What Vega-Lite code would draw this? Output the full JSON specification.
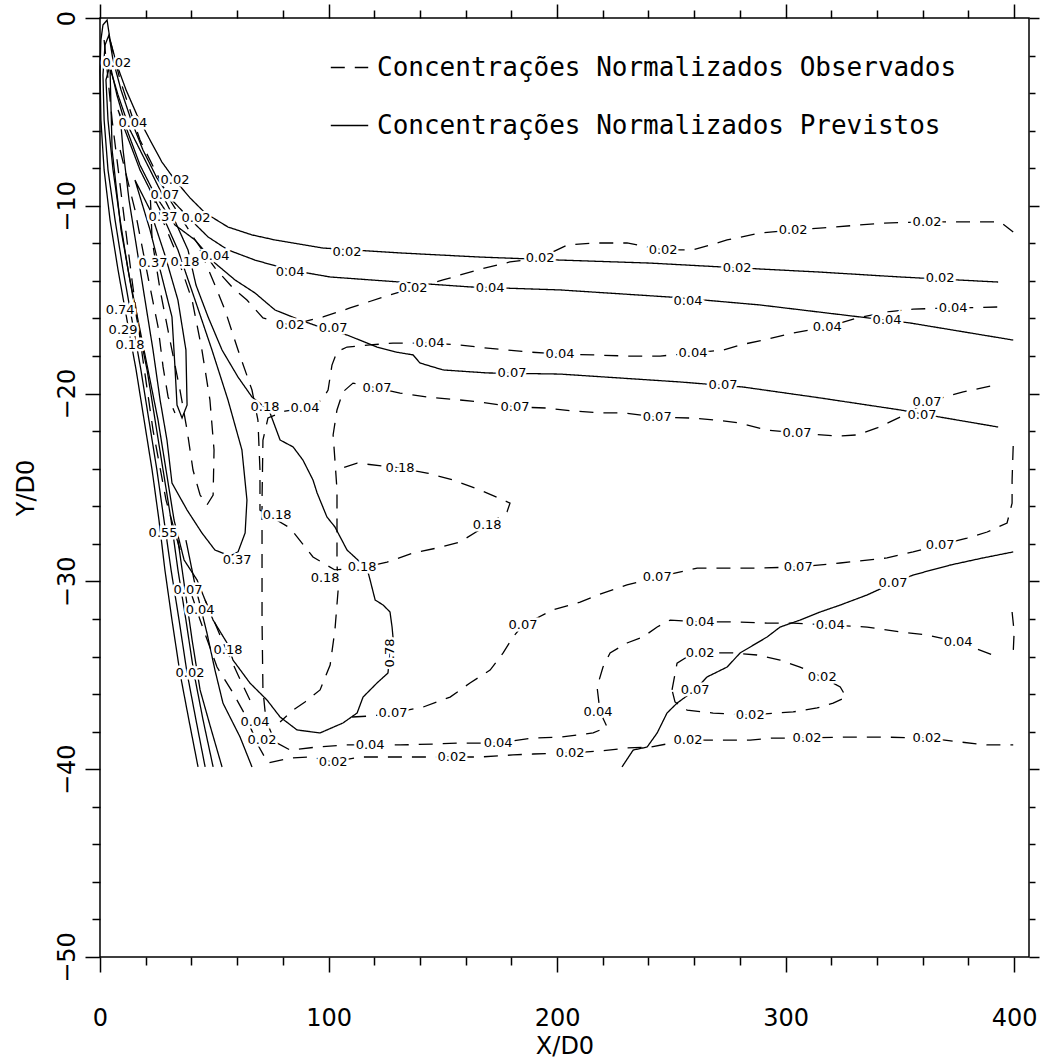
{
"$schema":"https://vega.github.io/schema/vega-lite/v6.json",
"width":929,"height":939,
"autosize":{"type":"none"},
"padding":{"left":100,"top":18,"right":11,"bottom":103},
"background":"white",
"config":{"view":{"stroke":"black","strokeWidth":1.5},
"axis":{"domain":false,"grid":false,"tickColor":"black","tickWidth":1.5,"labelColor":"black","labelFont":"DejaVu Sans","labelFontSize":24,"titleFont":"DejaVu Sans","titleFontSize":24,"titleFontWeight":"normal","titleColor":"black"}},
"datasets":{
"lines":[
{"c":"S1","k":"P","n":0,"x":42.9,"y":-39.88},{"c":"S1","k":"P","n":1,"x":38.9,"y":-37.38},{"c":"S1","k":"P","n":2,"x":35.0,"y":-34.88},{"c":"S1","k":"P","n":3,"x":31.5,"y":-32.06},{"c":"S1","k":"P","n":4,"x":28.4,"y":-29.39},{"c":"S1","k":"P","n":5,"x":25.8,"y":-26.73},{"c":"S1","k":"P","n":6,"x":22.8,"y":-24.07},{"c":"S1","k":"P","n":7,"x":19.3,"y":-21.41},{"c":"S1","k":"P","n":8,"x":15.8,"y":-18.74},{"c":"S1","k":"P","n":9,"x":11.8,"y":-16.08},{"c":"S1","k":"P","n":10,"x":7.9,"y":-13.42},{"c":"S1","k":"P","n":11,"x":4.4,"y":-10.76},{"c":"S1","k":"P","n":12,"x":1.8,"y":-8.09},{"c":"S1","k":"P","n":13,"x":0.4,"y":-5.43},{"c":"S1","k":"P","n":14,"x":0.0,"y":-2.77},{"c":"S1","k":"P","n":15,"x":0.4,"y":-1.17},{"c":"S1","k":"P","n":16,"x":1.3,"y":-0.37},{"c":"S1","k":"P","n":17,"x":3.1,"y":-0.11},{"c":"S1","k":"P","n":18,"x":4.4,"y":-1.17},{"c":"S1","k":"P","n":19,"x":7.4,"y":-2.50},{"c":"S1","k":"P","n":20,"x":11.4,"y":-3.83},{"c":"S1","k":"P","n":21,"x":16.2,"y":-5.17},{"c":"S1","k":"P","n":22,"x":21.9,"y":-6.50},{"c":"S1","k":"P","n":23,"x":27.1,"y":-7.67},{"c":"S1","k":"P","n":24,"x":32.8,"y":-8.63},{"c":"S1","k":"P","n":25,"x":39.4,"y":-9.58},{"c":"S1","k":"P","n":26,"x":46.0,"y":-10.38},{"c":"S1","k":"P","n":27,"x":56.0,"y":-11.13},{"c":"S1","k":"P","n":28,"x":66.5,"y":-11.55},{"c":"S1","k":"P","n":29,"x":76.6,"y":-11.82},{"c":"S1","k":"P","n":30,"x":97.6,"y":-12.25},{"c":"S1","k":"P","n":31,"x":131.3,"y":-12.51},{"c":"S1","k":"P","n":32,"x":166.3,"y":-12.73},{"c":"S1","k":"P","n":33,"x":201.3,"y":-12.89},{"c":"S1","k":"P","n":34,"x":240.7,"y":-13.05},{"c":"S1","k":"P","n":35,"x":280.1,"y":-13.31},{"c":"S1","k":"P","n":36,"x":315.1,"y":-13.53},{"c":"S1","k":"P","n":37,"x":350.1,"y":-13.79},{"c":"S1","k":"P","n":38,"x":393.0,"y":-14.06},
{"c":"S2","k":"P","n":0,"x":46.0,"y":-39.88},{"c":"S2","k":"P","n":1,"x":42.0,"y":-37.38},{"c":"S2","k":"P","n":2,"x":38.1,"y":-34.88},{"c":"S2","k":"P","n":3,"x":34.6,"y":-32.06},{"c":"S2","k":"P","n":4,"x":31.1,"y":-29.39},{"c":"S2","k":"P","n":5,"x":28.0,"y":-26.73},{"c":"S2","k":"P","n":6,"x":24.9,"y":-24.07},{"c":"S2","k":"P","n":7,"x":21.4,"y":-21.41},{"c":"S2","k":"P","n":8,"x":17.9,"y":-18.74},{"c":"S2","k":"P","n":9,"x":14.0,"y":-16.08},{"c":"S2","k":"P","n":10,"x":10.1,"y":-13.42},{"c":"S2","k":"P","n":11,"x":6.6,"y":-10.76},{"c":"S2","k":"P","n":12,"x":3.5,"y":-8.09},{"c":"S2","k":"P","n":13,"x":1.8,"y":-5.43},{"c":"S2","k":"P","n":14,"x":1.3,"y":-3.04},{"c":"S2","k":"P","n":15,"x":2.2,"y":-1.44},{"c":"S2","k":"P","n":16,"x":3.9,"y":-0.91},{"c":"S2","k":"P","n":17,"x":5.7,"y":-2.24},{"c":"S2","k":"P","n":18,"x":9.2,"y":-3.83},{"c":"S2","k":"P","n":19,"x":13.6,"y":-5.43},{"c":"S2","k":"P","n":20,"x":18.8,"y":-7.03},{"c":"S2","k":"P","n":21,"x":24.9,"y":-8.52},{"c":"S2","k":"P","n":22,"x":31.5,"y":-9.69},{"c":"S2","k":"P","n":23,"x":38.5,"y":-10.60},{"c":"S2","k":"P","n":24,"x":47.3,"y":-11.66},{"c":"S2","k":"P","n":25,"x":56.0,"y":-12.35},{"c":"S2","k":"P","n":26,"x":67.8,"y":-12.89},{"c":"S2","k":"P","n":27,"x":83.2,"y":-13.42},{"c":"S2","k":"P","n":28,"x":100.7,"y":-13.79},{"c":"S2","k":"P","n":29,"x":131.3,"y":-14.06},{"c":"S2","k":"P","n":30,"x":161.9,"y":-14.32},{"c":"S2","k":"P","n":31,"x":201.3,"y":-14.48},{"c":"S2","k":"P","n":32,"x":249.5,"y":-14.86},{"c":"S2","k":"P","n":33,"x":288.8,"y":-15.28},{"c":"S2","k":"P","n":34,"x":332.6,"y":-15.92},{"c":"S2","k":"P","n":35,"x":354.5,"y":-16.24},{"c":"S2","k":"P","n":36,"x":399.6,"y":-17.15},
{"c":"S3","k":"P","n":0,"x":49.5,"y":-39.88},{"c":"S3","k":"P","n":1,"x":45.1,"y":-37.38},{"c":"S3","k":"P","n":2,"x":41.1,"y":-34.88},{"c":"S3","k":"P","n":3,"x":37.6,"y":-32.06},{"c":"S3","k":"P","n":4,"x":34.1,"y":-29.39},{"c":"S3","k":"P","n":5,"x":31.1,"y":-26.73},{"c":"S3","k":"P","n":6,"x":27.6,"y":-24.07},{"c":"S3","k":"P","n":7,"x":24.1,"y":-21.41},{"c":"S3","k":"P","n":8,"x":20.6,"y":-18.74},{"c":"S3","k":"P","n":9,"x":16.2,"y":-16.08},{"c":"S3","k":"P","n":10,"x":12.3,"y":-13.42},{"c":"S3","k":"P","n":11,"x":8.8,"y":-10.76},{"c":"S3","k":"P","n":12,"x":5.7,"y":-8.09},{"c":"S3","k":"P","n":13,"x":3.5,"y":-5.43},{"c":"S3","k":"P","n":14,"x":2.6,"y":-3.30},{"c":"S3","k":"P","n":15,"x":4.4,"y":-2.50},{"c":"S3","k":"P","n":16,"x":7.4,"y":-4.10},{"c":"S3","k":"P","n":17,"x":11.8,"y":-5.96},{"c":"S3","k":"P","n":18,"x":17.5,"y":-7.83},{"c":"S3","k":"P","n":19,"x":24.1,"y":-9.42},{"c":"S3","k":"P","n":20,"x":32.8,"y":-11.02},{"c":"S3","k":"P","n":21,"x":41.6,"y":-11.82},{"c":"S3","k":"P","n":22,"x":50.3,"y":-13.05},{"c":"S3","k":"P","n":23,"x":59.1,"y":-13.95},{"c":"S3","k":"P","n":24,"x":67.8,"y":-14.64},{"c":"S3","k":"P","n":25,"x":76.6,"y":-15.55},{"c":"S3","k":"P","n":26,"x":87.5,"y":-16.08},{"c":"S3","k":"P","n":27,"x":95.0,"y":-16.40},{"c":"S3","k":"P","n":28,"x":108.1,"y":-16.88},{"c":"S3","k":"P","n":29,"x":121.2,"y":-17.52},{"c":"S3","k":"P","n":30,"x":129.1,"y":-17.78},{"c":"S3","k":"P","n":31,"x":137.0,"y":-17.94},{"c":"S3","k":"P","n":32,"x":140.0,"y":-18.37},{"c":"S3","k":"P","n":33,"x":150.1,"y":-18.74},{"c":"S3","k":"P","n":34,"x":169.4,"y":-18.90},{"c":"S3","k":"P","n":35,"x":201.3,"y":-18.96},{"c":"S3","k":"P","n":36,"x":253.8,"y":-19.38},{"c":"S3","k":"P","n":37,"x":281.4,"y":-19.65},{"c":"S3","k":"P","n":38,"x":315.1,"y":-20.23},{"c":"S3","k":"P","n":39,"x":350.1,"y":-20.87},{"c":"S3","k":"P","n":40,"x":367.6,"y":-21.25},{"c":"S3","k":"P","n":41,"x":393.0,"y":-21.78},
{"c":"S3b","k":"P","n":0,"x":228.4,"y":-39.88},{"c":"S3b","k":"P","n":1,"x":233.3,"y":-38.98},{"c":"S3b","k":"P","n":2,"x":239.4,"y":-38.82},{"c":"S3b","k":"P","n":3,"x":243.8,"y":-38.07},{"c":"S3b","k":"P","n":4,"x":248.1,"y":-37.01},{"c":"S3b","k":"P","n":5,"x":252.5,"y":-36.48},{"c":"S3b","k":"P","n":6,"x":260.4,"y":-35.78},{"c":"S3b","k":"P","n":7,"x":265.6,"y":-35.09},{"c":"S3b","k":"P","n":8,"x":274.4,"y":-34.56},{"c":"S3b","k":"P","n":9,"x":280.1,"y":-33.81},{"c":"S3b","k":"P","n":10,"x":291.9,"y":-32.96},{"c":"S3b","k":"P","n":11,"x":297.6,"y":-32.43},{"c":"S3b","k":"P","n":12,"x":306.3,"y":-32.06},{"c":"S3b","k":"P","n":13,"x":315.1,"y":-31.63},{"c":"S3b","k":"P","n":14,"x":323.9,"y":-31.26},{"c":"S3b","k":"P","n":15,"x":335.7,"y":-30.72},{"c":"S3b","k":"P","n":16,"x":347.0,"y":-30.09},{"c":"S3b","k":"P","n":17,"x":355.8,"y":-29.66},{"c":"S3b","k":"P","n":18,"x":372.0,"y":-29.13},{"c":"S3b","k":"P","n":19,"x":386.4,"y":-28.75},{"c":"S3b","k":"P","n":20,"x":399.6,"y":-28.43},
{"c":"S4","k":"P","n":0,"x":4.4,"y":-2.77},{"c":"S4","k":"P","n":1,"x":5.3,"y":-7.03},{"c":"S4","k":"P","n":2,"x":9.2,"y":-11.29},{"c":"S4","k":"P","n":3,"x":13.1,"y":-13.95},{"c":"S4","k":"P","n":4,"x":17.5,"y":-16.61},{"c":"S4","k":"P","n":5,"x":21.9,"y":-19.28},{"c":"S4","k":"P","n":6,"x":25.4,"y":-21.41},{"c":"S4","k":"P","n":7,"x":28.9,"y":-24.07},{"c":"S4","k":"P","n":8,"x":32.4,"y":-26.73},{"c":"S4","k":"P","n":9,"x":36.8,"y":-28.86},{"c":"S4","k":"P","n":10,"x":42.5,"y":-29.93},{"c":"S4","k":"P","n":11,"x":49.5,"y":-32.06},{"c":"S4","k":"P","n":12,"x":55.6,"y":-33.28},{"c":"S4","k":"P","n":13,"x":58.2,"y":-34.19},{"c":"S4","k":"P","n":14,"x":65.6,"y":-35.41},{"c":"S4","k":"P","n":15,"x":73.1,"y":-36.32},{"c":"S4","k":"P","n":16,"x":78.8,"y":-37.22},{"c":"S4","k":"P","n":17,"x":86.2,"y":-37.91},{"c":"S4","k":"P","n":18,"x":96.3,"y":-38.07},{"c":"S4","k":"P","n":19,"x":106.3,"y":-37.54},{"c":"S4","k":"P","n":20,"x":112.5,"y":-37.01},{"c":"S4","k":"P","n":21,"x":115.1,"y":-36.16},{"c":"S4","k":"P","n":22,"x":121.2,"y":-35.41},{"c":"S4","k":"P","n":23,"x":126.0,"y":-34.88},{"c":"S4","k":"P","n":24,"x":126.9,"y":-33.81},{"c":"S4","k":"P","n":25,"x":128.2,"y":-32.96},{"c":"S4","k":"P","n":26,"x":127.8,"y":-32.43},{"c":"S4","k":"P","n":27,"x":126.9,"y":-31.63},{"c":"S4","k":"P","n":28,"x":123.9,"y":-31.26},{"c":"S4","k":"P","n":29,"x":120.4,"y":-30.99},{"c":"S4","k":"P","n":30,"x":118.2,"y":-29.93},{"c":"S4","k":"P","n":31,"x":116.8,"y":-29.29},{"c":"S4","k":"P","n":32,"x":113.8,"y":-28.97},{"c":"S4","k":"P","n":33,"x":108.1,"y":-28.33},{"c":"S4","k":"P","n":34,"x":102.8,"y":-27.10},{"c":"S4","k":"P","n":35,"x":99.3,"y":-26.57},{"c":"S4","k":"P","n":36,"x":95.0,"y":-25.29},{"c":"S4","k":"P","n":37,"x":93.2,"y":-24.60},{"c":"S4","k":"P","n":38,"x":88.8,"y":-23.54},{"c":"S4","k":"P","n":39,"x":84.5,"y":-22.84},{"c":"S4","k":"P","n":40,"x":78.8,"y":-22.47},{"c":"S4","k":"P","n":41,"x":74.4,"y":-21.03},{"c":"S4","k":"P","n":42,"x":70.9,"y":-20.61},{"c":"S4","k":"P","n":43,"x":66.5,"y":-20.18},{"c":"S4","k":"P","n":44,"x":60.4,"y":-19.12},{"c":"S4","k":"P","n":45,"x":53.4,"y":-17.68},{"c":"S4","k":"P","n":46,"x":47.3,"y":-15.92},{"c":"S4","k":"P","n":47,"x":42.0,"y":-14.22},{"c":"S4","k":"P","n":48,"x":38.5,"y":-12.35},{"c":"S4","k":"P","n":49,"x":30.6,"y":-10.22},{"c":"S4","k":"P","n":50,"x":21.9,"y":-8.09},{"c":"S4","k":"P","n":51,"x":13.1,"y":-5.96},{"c":"S4","k":"P","n":52,"x":7.9,"y":-4.10},{"c":"S4","k":"P","n":53,"x":5.3,"y":-3.04},{"c":"S4","k":"P","n":54,"x":4.4,"y":-2.77},
{"c":"S5","k":"P","n":0,"x":7.9,"y":-4.90},{"c":"S5","k":"P","n":1,"x":10.9,"y":-5.96},{"c":"S5","k":"P","n":2,"x":17.5,"y":-8.09},{"c":"S5","k":"P","n":3,"x":26.3,"y":-10.22},{"c":"S5","k":"P","n":4,"x":34.1,"y":-12.35},{"c":"S5","k":"P","n":5,"x":41.6,"y":-15.02},{"c":"S5","k":"P","n":6,"x":49.0,"y":-17.68},{"c":"S5","k":"P","n":7,"x":56.0,"y":-20.34},{"c":"S5","k":"P","n":8,"x":62.1,"y":-23.00},{"c":"S5","k":"P","n":9,"x":64.3,"y":-25.67},{"c":"S5","k":"P","n":10,"x":63.5,"y":-27.42},{"c":"S5","k":"P","n":11,"x":60.4,"y":-28.43},{"c":"S5","k":"P","n":12,"x":56.9,"y":-28.65},{"c":"S5","k":"P","n":13,"x":50.3,"y":-28.33},{"c":"S5","k":"P","n":14,"x":44.6,"y":-27.42},{"c":"S5","k":"P","n":15,"x":38.1,"y":-26.20},{"c":"S5","k":"P","n":16,"x":31.5,"y":-24.76},{"c":"S5","k":"P","n":17,"x":29.3,"y":-22.47},{"c":"S5","k":"P","n":18,"x":26.3,"y":-20.34},{"c":"S5","k":"P","n":19,"x":23.2,"y":-17.68},{"c":"S5","k":"P","n":20,"x":19.7,"y":-15.02},{"c":"S5","k":"P","n":21,"x":16.2,"y":-12.35},{"c":"S5","k":"P","n":22,"x":12.7,"y":-9.69},{"c":"S5","k":"P","n":23,"x":10.1,"y":-7.03},{"c":"S5","k":"P","n":24,"x":8.8,"y":-5.17},{"c":"S5","k":"P","n":25,"x":7.9,"y":-4.90},
{"c":"S6","k":"P","n":0,"x":15.3,"y":-8.63},{"c":"S6","k":"P","n":1,"x":21.9,"y":-11.29},{"c":"S6","k":"P","n":2,"x":27.1,"y":-13.79},{"c":"S6","k":"P","n":3,"x":31.5,"y":-15.92},{"c":"S6","k":"P","n":4,"x":32.8,"y":-18.58},{"c":"S6","k":"P","n":5,"x":33.7,"y":-20.61},{"c":"S6","k":"P","n":6,"x":35.9,"y":-21.30},{"c":"S6","k":"P","n":7,"x":38.1,"y":-20.61},{"c":"S6","k":"P","n":8,"x":37.6,"y":-17.68},{"c":"S6","k":"P","n":9,"x":34.1,"y":-15.02},{"c":"S6","k":"P","n":10,"x":28.4,"y":-12.62},{"c":"S6","k":"P","n":11,"x":21.9,"y":-10.22},{"c":"S6","k":"P","n":12,"x":15.3,"y":-8.63},
{"c":"Pa","k":"P","n":0,"x":34.1,"y":-27.80},{"c":"Pa","k":"P","n":1,"x":37.2,"y":-30.46},{"c":"Pa","k":"P","n":2,"x":40.3,"y":-33.12},{"c":"Pa","k":"P","n":3,"x":43.8,"y":-35.78},{"c":"Pa","k":"P","n":4,"x":48.1,"y":-37.65},{"c":"Pa","k":"P","n":5,"x":53.4,"y":-39.88},
{"c":"Pb","k":"P","n":0,"x":37.6,"y":-27.80},{"c":"Pb","k":"P","n":1,"x":41.6,"y":-30.19},{"c":"Pb","k":"P","n":2,"x":46.8,"y":-32.75},{"c":"Pb","k":"P","n":3,"x":50.3,"y":-34.72},{"c":"Pb","k":"P","n":4,"x":53.8,"y":-36.48},{"c":"Pb","k":"P","n":5,"x":61.3,"y":-38.29},{"c":"Pb","k":"P","n":6,"x":66.5,"y":-39.88},
{"c":"D02u","k":"O","n":0,"x":4.4,"y":-1.17},{"c":"D02u","k":"O","n":1,"x":8.8,"y":-3.30},{"c":"D02u","k":"O","n":2,"x":17.5,"y":-6.50},{"c":"D02u","k":"O","n":3,"x":30.6,"y":-9.69},{"c":"D02u","k":"O","n":4,"x":41.6,"y":-11.82},{"c":"D02u","k":"O","n":5,"x":50.3,"y":-13.31},{"c":"D02u","k":"O","n":6,"x":58.2,"y":-14.38},{"c":"D02u","k":"O","n":7,"x":64.3,"y":-15.02},{"c":"D02u","k":"O","n":8,"x":71.3,"y":-15.97},{"c":"D02u","k":"O","n":9,"x":83.2,"y":-16.35},{"c":"D02u","k":"O","n":10,"x":97.6,"y":-15.92},{"c":"D02u","k":"O","n":11,"x":109.4,"y":-15.44},{"c":"D02u","k":"O","n":12,"x":123.9,"y":-14.86},{"c":"D02u","k":"O","n":13,"x":137.0,"y":-14.38},{"c":"D02u","k":"O","n":14,"x":150.1,"y":-13.95},{"c":"D02u","k":"O","n":15,"x":165.0,"y":-13.42},{"c":"D02u","k":"O","n":16,"x":179.4,"y":-12.99},{"c":"D02u","k":"O","n":17,"x":192.6,"y":-12.78},{"c":"D02u","k":"O","n":18,"x":204.4,"y":-12.09},{"c":"D02u","k":"O","n":19,"x":215.8,"y":-11.98},{"c":"D02u","k":"O","n":20,"x":230.6,"y":-11.98},{"c":"D02u","k":"O","n":21,"x":246.4,"y":-12.35},{"c":"D02u","k":"O","n":22,"x":259.5,"y":-12.35},{"c":"D02u","k":"O","n":23,"x":274.4,"y":-11.82},{"c":"D02u","k":"O","n":24,"x":288.8,"y":-11.45},{"c":"D02u","k":"O","n":25,"x":303.3,"y":-11.29},{"c":"D02u","k":"O","n":26,"x":316.4,"y":-11.18},{"c":"D02u","k":"O","n":27,"x":342.7,"y":-10.92},{"c":"D02u","k":"O","n":28,"x":361.9,"y":-10.86},{"c":"D02u","k":"O","n":29,"x":375.1,"y":-10.86},{"c":"D02u","k":"O","n":30,"x":393.9,"y":-10.86},{"c":"D02u","k":"O","n":31,"x":399.6,"y":-11.40},
{"c":"D02l","k":"O","n":0,"x":39.4,"y":-30.46},{"c":"D02l","k":"O","n":1,"x":43.8,"y":-32.06},{"c":"D02l","k":"O","n":2,"x":51.2,"y":-34.56},{"c":"D02l","k":"O","n":3,"x":58.2,"y":-35.94},{"c":"D02l","k":"O","n":4,"x":63.5,"y":-37.11},{"c":"D02l","k":"O","n":5,"x":69.1,"y":-38.71},{"c":"D02l","k":"O","n":6,"x":73.5,"y":-39.67},{"c":"D02l","k":"O","n":7,"x":83.2,"y":-39.40},{"c":"D02l","k":"O","n":8,"x":91.9,"y":-39.35},{"c":"D02l","k":"O","n":9,"x":102.0,"y":-39.62},{"c":"D02l","k":"O","n":10,"x":113.8,"y":-39.35},{"c":"D02l","k":"O","n":11,"x":128.2,"y":-39.35},{"c":"D02l","k":"O","n":12,"x":138.7,"y":-39.35},{"c":"D02l","k":"O","n":13,"x":154.0,"y":-39.35},{"c":"D02l","k":"O","n":14,"x":166.3,"y":-39.35},{"c":"D02l","k":"O","n":15,"x":180.7,"y":-39.24},{"c":"D02l","k":"O","n":16,"x":189.5,"y":-39.19},{"c":"D02l","k":"O","n":17,"x":205.7,"y":-39.14},{"c":"D02l","k":"O","n":18,"x":218.8,"y":-39.03},{"c":"D02l","k":"O","n":19,"x":230.6,"y":-38.87},{"c":"D02l","k":"O","n":20,"x":240.7,"y":-38.82},{"c":"D02l","k":"O","n":21,"x":257.3,"y":-38.45},{"c":"D02l","k":"O","n":22,"x":271.3,"y":-38.45},{"c":"D02l","k":"O","n":23,"x":284.5,"y":-38.45},{"c":"D02l","k":"O","n":24,"x":294.5,"y":-38.34},{"c":"D02l","k":"O","n":25,"x":309.4,"y":-38.34},{"c":"D02l","k":"O","n":26,"x":325.2,"y":-38.29},{"c":"D02l","k":"O","n":27,"x":342.7,"y":-38.29},{"c":"D02l","k":"O","n":28,"x":361.9,"y":-38.34},{"c":"D02l","k":"O","n":29,"x":376.4,"y":-38.55},{"c":"D02l","k":"O","n":30,"x":388.2,"y":-38.71},{"c":"D02l","k":"O","n":31,"x":399.6,"y":-38.71},
{"c":"D02s","k":"O","n":0,"x":250.3,"y":-35.78},{"c":"D02s","k":"O","n":1,"x":252.5,"y":-34.35},{"c":"D02s","k":"O","n":2,"x":258.2,"y":-33.92},{"c":"D02s","k":"O","n":3,"x":262.6,"y":-33.81},{"c":"D02s","k":"O","n":4,"x":277.0,"y":-33.81},{"c":"D02s","k":"O","n":5,"x":287.5,"y":-33.92},{"c":"D02s","k":"O","n":6,"x":297.6,"y":-34.19},{"c":"D02s","k":"O","n":7,"x":306.3,"y":-34.56},{"c":"D02s","k":"O","n":8,"x":316.0,"y":-35.09},{"c":"D02s","k":"O","n":9,"x":323.9,"y":-35.62},{"c":"D02s","k":"O","n":10,"x":326.5,"y":-36.16},{"c":"D02s","k":"O","n":11,"x":320.8,"y":-36.48},{"c":"D02s","k":"O","n":12,"x":313.8,"y":-36.74},{"c":"D02s","k":"O","n":13,"x":303.3,"y":-36.95},{"c":"D02s","k":"O","n":14,"x":284.5,"y":-37.11},{"c":"D02s","k":"O","n":15,"x":268.3,"y":-37.01},{"c":"D02s","k":"O","n":16,"x":256.9,"y":-36.85},{"c":"D02s","k":"O","n":17,"x":251.6,"y":-36.42},{"c":"D02s","k":"O","n":18,"x":250.3,"y":-35.78},
{"c":"D04","k":"O","n":0,"x":392.6,"y":-15.39},{"c":"D04","k":"O","n":1,"x":373.3,"y":-15.44},{"c":"D04","k":"O","n":2,"x":355.8,"y":-15.50},{"c":"D04","k":"O","n":3,"x":344.4,"y":-15.65},{"c":"D04","k":"O","n":4,"x":331.3,"y":-15.97},{"c":"D04","k":"O","n":5,"x":318.2,"y":-16.45},{"c":"D04","k":"O","n":6,"x":303.3,"y":-16.77},{"c":"D04","k":"O","n":7,"x":290.2,"y":-17.15},{"c":"D04","k":"O","n":8,"x":280.1,"y":-17.41},{"c":"D04","k":"O","n":9,"x":272.6,"y":-17.68},{"c":"D04","k":"O","n":10,"x":259.5,"y":-17.84},{"c":"D04","k":"O","n":11,"x":245.1,"y":-18.00},{"c":"D04","k":"O","n":12,"x":230.6,"y":-18.00},{"c":"D04","k":"O","n":13,"x":215.8,"y":-17.94},{"c":"D04","k":"O","n":14,"x":201.3,"y":-17.89},{"c":"D04","k":"O","n":15,"x":186.9,"y":-17.78},{"c":"D04","k":"O","n":16,"x":178.1,"y":-17.68},{"c":"D04","k":"O","n":17,"x":165.0,"y":-17.52},{"c":"D04","k":"O","n":18,"x":157.5,"y":-17.41},{"c":"D04","k":"O","n":19,"x":144.4,"y":-17.31},{"c":"D04","k":"O","n":20,"x":128.2,"y":-17.31},{"c":"D04","k":"O","n":21,"x":118.2,"y":-17.41},{"c":"D04","k":"O","n":22,"x":108.1,"y":-17.52},{"c":"D04","k":"O","n":23,"x":103.7,"y":-17.78},{"c":"D04","k":"O","n":24,"x":101.5,"y":-18.48},{"c":"D04","k":"O","n":25,"x":99.8,"y":-19.81},{"c":"D04","k":"O","n":26,"x":97.2,"y":-20.34},{"c":"D04","k":"O","n":27,"x":89.7,"y":-20.77},{"c":"D04","k":"O","n":28,"x":81.0,"y":-20.93},{"c":"D04","k":"O","n":29,"x":73.5,"y":-21.30},{"c":"D04","k":"O","n":30,"x":71.3,"y":-22.47},{"c":"D04","k":"O","n":31,"x":70.9,"y":-25.67},{"c":"D04","k":"O","n":32,"x":70.9,"y":-28.86},{"c":"D04","k":"O","n":33,"x":70.9,"y":-32.06},{"c":"D04","k":"O","n":34,"x":71.3,"y":-35.78},{"c":"D04","k":"O","n":35,"x":72.6,"y":-37.38},{"c":"D04","k":"O","n":36,"x":76.6,"y":-38.55},{"c":"D04","k":"O","n":37,"x":83.2,"y":-38.98},{"c":"D04","k":"O","n":38,"x":95.0,"y":-38.82},{"c":"D04","k":"O","n":39,"x":107.2,"y":-38.71},{"c":"D04","k":"O","n":40,"x":118.2,"y":-38.71},{"c":"D04","k":"O","n":41,"x":131.3,"y":-38.71},{"c":"D04","k":"O","n":42,"x":145.7,"y":-38.66},{"c":"D04","k":"O","n":43,"x":157.5,"y":-38.61},{"c":"D04","k":"O","n":44,"x":174.2,"y":-38.61},{"c":"D04","k":"O","n":45,"x":189.5,"y":-38.34},{"c":"D04","k":"O","n":46,"x":201.3,"y":-38.29},{"c":"D04","k":"O","n":47,"x":215.8,"y":-38.07},{"c":"D04","k":"O","n":48,"x":221.9,"y":-37.75},{"c":"D04","k":"O","n":49,"x":218.8,"y":-36.95},{"c":"D04","k":"O","n":50,"x":217.5,"y":-35.62},{"c":"D04","k":"O","n":51,"x":220.1,"y":-34.56},{"c":"D04","k":"O","n":52,"x":223.2,"y":-33.81},{"c":"D04","k":"O","n":53,"x":230.6,"y":-33.28},{"c":"D04","k":"O","n":54,"x":237.6,"y":-32.96},{"c":"D04","k":"O","n":55,"x":243.8,"y":-32.43},{"c":"D04","k":"O","n":56,"x":249.5,"y":-32.06},{"c":"D04","k":"O","n":57,"x":262.6,"y":-32.16},{"c":"D04","k":"O","n":58,"x":277.0,"y":-32.16},{"c":"D04","k":"O","n":59,"x":291.9,"y":-32.22},{"c":"D04","k":"O","n":60,"x":303.3,"y":-32.22},{"c":"D04","k":"O","n":61,"x":319.5,"y":-32.32},{"c":"D04","k":"O","n":62,"x":335.7,"y":-32.43},{"c":"D04","k":"O","n":63,"x":350.1,"y":-32.69},{"c":"D04","k":"O","n":64,"x":361.9,"y":-32.85},{"c":"D04","k":"O","n":65,"x":375.5,"y":-33.23},{"c":"D04","k":"O","n":66,"x":390.8,"y":-33.92},
{"c":"D04b","k":"O","n":0,"x":399.1,"y":-31.63},{"c":"D04b","k":"O","n":1,"x":400.0,"y":-32.69},{"c":"D04b","k":"O","n":2,"x":399.6,"y":-33.76},
{"c":"D07u","k":"O","n":0,"x":389.5,"y":-19.60},{"c":"D07u","k":"O","n":1,"x":377.7,"y":-19.91},{"c":"D07u","k":"O","n":2,"x":361.9,"y":-20.45},{"c":"D07u","k":"O","n":3,"x":350.1,"y":-21.25},{"c":"D07u","k":"O","n":4,"x":345.7,"y":-21.51},{"c":"D07u","k":"O","n":5,"x":340.0,"y":-21.83},{"c":"D07u","k":"O","n":6,"x":331.3,"y":-22.20},{"c":"D07u","k":"O","n":7,"x":322.5,"y":-22.26},{"c":"D07u","k":"O","n":8,"x":305.0,"y":-22.10},{"c":"D07u","k":"O","n":9,"x":291.9,"y":-21.94},{"c":"D07u","k":"O","n":10,"x":280.1,"y":-21.57},{"c":"D07u","k":"O","n":11,"x":270.0,"y":-21.41},{"c":"D07u","k":"O","n":12,"x":258.2,"y":-21.30},{"c":"D07u","k":"O","n":13,"x":243.8,"y":-21.25},{"c":"D07u","k":"O","n":14,"x":228.9,"y":-21.03},{"c":"D07u","k":"O","n":15,"x":220.1,"y":-21.03},{"c":"D07u","k":"O","n":16,"x":207.0,"y":-20.93},{"c":"D07u","k":"O","n":17,"x":195.6,"y":-20.77},{"c":"D07u","k":"O","n":18,"x":181.6,"y":-20.71},{"c":"D07u","k":"O","n":19,"x":166.3,"y":-20.45},{"c":"D07u","k":"O","n":20,"x":157.5,"y":-20.34},{"c":"D07u","k":"O","n":21,"x":143.1,"y":-20.18},{"c":"D07u","k":"O","n":22,"x":131.3,"y":-19.97},{"c":"D07u","k":"O","n":23,"x":121.2,"y":-19.70},{"c":"D07u","k":"O","n":24,"x":110.7,"y":-19.44},{"c":"D07u","k":"O","n":25,"x":106.3,"y":-19.91},{"c":"D07u","k":"O","n":26,"x":103.7,"y":-20.87},{"c":"D07u","k":"O","n":27,"x":102.0,"y":-22.20},{"c":"D07u","k":"O","n":28,"x":102.8,"y":-23.54},{"c":"D07u","k":"O","n":29,"x":103.7,"y":-25.13},{"c":"D07u","k":"O","n":30,"x":103.7,"y":-27.26},{"c":"D07u","k":"O","n":31,"x":103.7,"y":-29.02},{"c":"D07u","k":"O","n":32,"x":104.2,"y":-30.46},{"c":"D07u","k":"O","n":33,"x":102.8,"y":-32.59},{"c":"D07u","k":"O","n":34,"x":100.7,"y":-34.45},{"c":"D07u","k":"O","n":35,"x":96.3,"y":-35.78},{"c":"D07u","k":"O","n":36,"x":89.7,"y":-36.42},{"c":"D07u","k":"O","n":37,"x":84.5,"y":-36.85},{"c":"D07u","k":"O","n":38,"x":78.8,"y":-37.49},
{"c":"D07l","k":"O","n":0,"x":110.3,"y":-37.22},{"c":"D07l","k":"O","n":1,"x":118.2,"y":-37.17},{"c":"D07l","k":"O","n":2,"x":128.2,"y":-37.01},{"c":"D07l","k":"O","n":3,"x":141.4,"y":-36.69},{"c":"D07l","k":"O","n":4,"x":153.2,"y":-36.16},{"c":"D07l","k":"O","n":5,"x":161.9,"y":-35.41},{"c":"D07l","k":"O","n":6,"x":170.7,"y":-34.72},{"c":"D07l","k":"O","n":7,"x":176.4,"y":-33.81},{"c":"D07l","k":"O","n":8,"x":180.7,"y":-32.96},{"c":"D07l","k":"O","n":9,"x":185.1,"y":-32.32},{"c":"D07l","k":"O","n":10,"x":198.2,"y":-31.52},{"c":"D07l","k":"O","n":11,"x":210.1,"y":-31.10},{"c":"D07l","k":"O","n":12,"x":220.1,"y":-30.62},{"c":"D07l","k":"O","n":13,"x":230.6,"y":-30.19},{"c":"D07l","k":"O","n":14,"x":243.8,"y":-29.77},{"c":"D07l","k":"O","n":15,"x":261.3,"y":-29.29},{"c":"D07l","k":"O","n":16,"x":277.0,"y":-29.29},{"c":"D07l","k":"O","n":17,"x":288.8,"y":-29.29},{"c":"D07l","k":"O","n":18,"x":305.5,"y":-29.23},{"c":"D07l","k":"O","n":19,"x":323.9,"y":-29.02},{"c":"D07l","k":"O","n":20,"x":344.4,"y":-28.75},{"c":"D07l","k":"O","n":21,"x":355.8,"y":-28.43},{"c":"D07l","k":"O","n":22,"x":367.6,"y":-28.06},{"c":"D07l","k":"O","n":23,"x":379.4,"y":-27.69},{"c":"D07l","k":"O","n":24,"x":388.2,"y":-27.37},{"c":"D07l","k":"O","n":25,"x":396.9,"y":-26.89},{"c":"D07l","k":"O","n":26,"x":399.1,"y":-25.83},{"c":"D07l","k":"O","n":27,"x":399.1,"y":-24.60},{"c":"D07l","k":"O","n":28,"x":399.6,"y":-22.74},
{"c":"D18","k":"O","n":0,"x":43.8,"y":-12.35},{"c":"D18","k":"O","n":1,"x":50.3,"y":-14.22},{"c":"D18","k":"O","n":2,"x":54.7,"y":-15.55},{"c":"D18","k":"O","n":3,"x":60.4,"y":-17.68},{"c":"D18","k":"O","n":4,"x":66.5,"y":-19.81},{"c":"D18","k":"O","n":5,"x":69.1,"y":-21.41},{"c":"D18","k":"O","n":6,"x":70.0,"y":-24.07},{"c":"D18","k":"O","n":7,"x":70.0,"y":-26.20},{"c":"D18","k":"O","n":8,"x":73.5,"y":-26.46},{"c":"D18","k":"O","n":9,"x":83.2,"y":-27.16},{"c":"D18","k":"O","n":10,"x":93.2,"y":-28.70},{"c":"D18","k":"O","n":11,"x":102.8,"y":-29.39},{"c":"D18","k":"O","n":12,"x":113.8,"y":-29.29},{"c":"D18","k":"O","n":13,"x":125.6,"y":-28.97},{"c":"D18","k":"O","n":14,"x":137.0,"y":-28.49},{"c":"D18","k":"O","n":15,"x":147.5,"y":-28.22},{"c":"D18","k":"O","n":16,"x":157.5,"y":-27.90},{"c":"D18","k":"O","n":17,"x":169.4,"y":-27.00},{"c":"D18","k":"O","n":18,"x":178.1,"y":-26.30},{"c":"D18","k":"O","n":19,"x":179.4,"y":-25.83},{"c":"D18","k":"O","n":20,"x":166.3,"y":-25.13},{"c":"D18","k":"O","n":21,"x":154.5,"y":-24.60},{"c":"D18","k":"O","n":22,"x":143.1,"y":-24.23},{"c":"D18","k":"O","n":23,"x":131.3,"y":-23.96},{"c":"D18","k":"O","n":24,"x":112.5,"y":-23.70},{"c":"D18","k":"O","n":25,"x":105.9,"y":-23.96},
{"c":"DL1","k":"O","n":0,"x":8.8,"y":-7.03},{"c":"DL1","k":"O","n":1,"x":15.3,"y":-10.22},{"c":"DL1","k":"O","n":2,"x":21.0,"y":-13.79},{"c":"DL1","k":"O","n":3,"x":25.4,"y":-16.45},{"c":"DL1","k":"O","n":4,"x":27.6,"y":-18.58},{"c":"DL1","k":"O","n":5,"x":29.8,"y":-20.18},{"c":"DL1","k":"O","n":6,"x":32.8,"y":-21.03},
{"c":"DL2","k":"O","n":0,"x":21.9,"y":-9.16},{"c":"DL2","k":"O","n":1,"x":32.8,"y":-12.35},{"c":"DL2","k":"O","n":2,"x":40.3,"y":-15.02},{"c":"DL2","k":"O","n":3,"x":44.6,"y":-17.68},{"c":"DL2","k":"O","n":4,"x":48.1,"y":-20.34},{"c":"DL2","k":"O","n":5,"x":49.9,"y":-23.00},{"c":"DL2","k":"O","n":6,"x":49.5,"y":-25.40},{"c":"DL2","k":"O","n":7,"x":46.8,"y":-25.93},{"c":"DL2","k":"O","n":8,"x":43.8,"y":-25.40},{"c":"DL2","k":"O","n":9,"x":40.7,"y":-24.07},{"c":"DL2","k":"O","n":10,"x":38.1,"y":-21.94},{"c":"DL2","k":"O","n":11,"x":35.0,"y":-19.81},{"c":"DL2","k":"O","n":12,"x":30.6,"y":-17.15},{"c":"DL2","k":"O","n":13,"x":26.3,"y":-14.48},{"c":"DL2","k":"O","n":14,"x":22.8,"y":-11.82},{"c":"DL2","k":"O","n":15,"x":21.9,"y":-9.16},
{"c":"DL5","k":"O","n":0,"x":1.8,"y":-1.17},{"c":"DL5","k":"O","n":1,"x":5.3,"y":-5.43},{"c":"DL5","k":"O","n":2,"x":9.6,"y":-9.69},{"c":"DL5","k":"O","n":3,"x":14.0,"y":-13.95},{"c":"DL5","k":"O","n":4,"x":18.8,"y":-18.21},{"c":"DL5","k":"O","n":5,"x":23.2,"y":-21.94},{"c":"DL5","k":"O","n":6,"x":28.9,"y":-25.67},{"c":"DL5","k":"O","n":7,"x":35.0,"y":-28.33},
{"c":"DL6","k":"O","n":0,"x":46.0,"y":-30.99},{"c":"DL6","k":"O","n":1,"x":53.4,"y":-33.12},{"c":"DL6","k":"O","n":2,"x":60.4,"y":-34.98},{"c":"DL6","k":"O","n":3,"x":65.6,"y":-36.32}
],
"labels":[
{"x":32.8,"y":-8.63,"t":"0.02"},{"x":108.1,"y":-12.46,"t":"0.02"},{"x":192.6,"y":-12.78,"t":"0.02"},{"x":278.8,"y":-13.31,"t":"0.02"},{"x":367.6,"y":-13.84,"t":"0.02"},
{"x":83.2,"y":-13.53,"t":"0.04"},{"x":170.7,"y":-14.38,"t":"0.04"},{"x":257.3,"y":-15.07,"t":"0.04"},{"x":344.4,"y":-16.08,"t":"0.04"},
{"x":102.0,"y":-16.51,"t":"0.07"},{"x":180.3,"y":-18.90,"t":"0.07"},{"x":272.6,"y":-19.54,"t":"0.07"},{"x":359.7,"y":-21.14,"t":"0.07"},
{"x":260.4,"y":-35.78,"t":"0.07"},{"x":347.0,"y":-30.09,"t":"0.07"},
{"x":72.2,"y":-20.71,"t":"0.18"},{"x":114.7,"y":-29.23,"t":"0.18"},{"x":56.0,"y":-33.65,"t":"0.18"},{"x":60.0,"y":-28.86,"t":"0.37"},
{"x":83.2,"y":-16.35,"t":"0.02"},{"x":137.0,"y":-14.38,"t":"0.02"},{"x":246.4,"y":-12.35,"t":"0.02"},{"x":303.3,"y":-11.29,"t":"0.02"},{"x":361.9,"y":-10.86,"t":"0.02"},
{"x":89.7,"y":-20.77,"t":"0.04"},{"x":144.4,"y":-17.31,"t":"0.04"},{"x":201.3,"y":-17.89,"t":"0.04"},{"x":259.5,"y":-17.84,"t":"0.04"},{"x":318.2,"y":-16.45,"t":"0.04"},{"x":373.3,"y":-15.44,"t":"0.04"},
{"x":121.2,"y":-19.70,"t":"0.07"},{"x":181.6,"y":-20.71,"t":"0.07"},{"x":243.8,"y":-21.25,"t":"0.07"},{"x":305.0,"y":-22.10,"t":"0.07"},{"x":361.9,"y":-20.45,"t":"0.07"},
{"x":131.3,"y":-23.96,"t":"0.18"},{"x":169.4,"y":-27.00,"t":"0.18"},{"x":98.5,"y":-29.82,"t":"0.18"},{"x":77.5,"y":-26.46,"t":"0.18"},
{"x":128.2,"y":-37.01,"t":"0.07"},{"x":185.1,"y":-32.32,"t":"0.07"},{"x":243.8,"y":-29.77,"t":"0.07"},{"x":305.5,"y":-29.23,"t":"0.07"},{"x":367.6,"y":-28.06,"t":"0.07"},
{"x":118.2,"y":-38.71,"t":"0.04"},{"x":174.2,"y":-38.61,"t":"0.04"},{"x":217.9,"y":-36.95,"t":"0.04"},{"x":262.6,"y":-32.16,"t":"0.04"},{"x":319.5,"y":-32.32,"t":"0.04"},{"x":375.5,"y":-33.23,"t":"0.04"},
{"x":102.0,"y":-39.62,"t":"0.02"},{"x":154.0,"y":-39.35,"t":"0.02"},{"x":205.7,"y":-39.14,"t":"0.02"},{"x":257.3,"y":-38.45,"t":"0.02"},{"x":309.4,"y":-38.34,"t":"0.02"},{"x":361.9,"y":-38.34,"t":"0.02"},
{"x":262.6,"y":-33.81,"t":"0.02"},{"x":316.0,"y":-35.09,"t":"0.02"},{"x":284.5,"y":-37.11,"t":"0.02"},
{"x":7.4,"y":-2.40,"t":"0.02"},{"x":14.4,"y":-5.59,"t":"0.04"},{"x":28.4,"y":-9.42,"t":"0.07"},{"x":27.6,"y":-10.60,"t":"0.37"},{"x":42.0,"y":-10.65,"t":"0.02"},{"x":23.2,"y":-13.05,"t":"0.37"},{"x":37.2,"y":-12.99,"t":"0.18"},{"x":50.3,"y":-12.67,"t":"0.04"},{"x":8.8,"y":-15.55,"t":"0.74"},{"x":10.1,"y":-16.61,"t":"0.29"},{"x":13.1,"y":-17.41,"t":"0.18"},{"x":27.6,"y":-27.42,"t":"0.55"},{"x":38.5,"y":-30.46,"t":"0.07"},{"x":43.8,"y":-31.52,"t":"0.04"},{"x":39.4,"y":-34.88,"t":"0.02"},{"x":67.8,"y":-37.49,"t":"0.04"},{"x":70.9,"y":-38.45,"t":"0.02"}
],
"vlabels":[{"x":126.9,"y":-33.81,"t":"0.78"}]
},
"layer":[
{"data":{"name":"lines"},
"mark":{"type":"line","color":"black","strokeWidth":1.3},
"encoding":{
"x":{"field":"x","type":"quantitative","scale":{"domain":[0,406.5],"nice":false,"zero":false},"axis":{"orient":"bottom","values":[0,100,200,300,400],"tickSize":15,"labelPadding":34,"labelFlush":false,"title":"X/D0","titlePadding":4}},
"y":{"field":"y","type":"quantitative","scale":{"domain":[-50,0],"nice":false,"zero":false},"axis":{"orient":"left","values":[-50,-40,-30,-20,-10,0],"tickSize":15,"labelAngle":270,"labelAlign":"center","labelBaseline":"bottom","labelPadding":6,"labelFlush":false,"title":"Y/D0","titlePadding":17}},
"detail":{"field":"c"},
"order":{"field":"n","type":"quantitative"},
"strokeDash":{"field":"k","type":"nominal","scale":{"domain":["O","P"],"range":[[14,10],[1,0]]},
"legend":{"orient":"none","legendX":230,"legendY":30,"title":null,"labelFont":"DejaVu Sans Mono","labelFontSize":26,"labelColor":"black","symbolType":"stroke","symbolSize":1400,"symbolStrokeWidth":1.5,"symbolStrokeColor":"black","rowPadding":25,"labelOffset":8,"labelLimit":800,
"labelExpr":"datum.label == 'O' ? 'Concentrações Normalizados Observados' : 'Concentrações Normalizados Previstos'"}}
}},
{"data":{"name":"labels"},
"mark":{"type":"text","font":"DejaVu Sans","fontSize":13,"fill":"white","stroke":"white","strokeWidth":5},
"encoding":{
"x":{"field":"x","type":"quantitative","scale":{"domain":[0,406.5],"nice":false,"zero":false},"axis":{"orient":"top","values":[0,100,200,300,400],"tickSize":14,"labels":false,"title":null}},
"y":{"field":"y","type":"quantitative","scale":{"domain":[-50,0],"nice":false,"zero":false},"axis":{"orient":"right","values":[-50,-40,-30,-20,-10,0],"tickSize":10,"labels":false,"title":null}},
"text":{"field":"t"}}},
{"data":{"name":"labels"},
"mark":{"type":"text","font":"DejaVu Sans","fontSize":13,"color":"black"},
"encoding":{
"x":{"field":"x","type":"quantitative","scale":{"domain":[0,406.5],"nice":false,"zero":false},"axis":{"orient":"bottom","values":[20,40,60,80,120,140,160,180,220,240,260,280,320,340,360,380],"tickSize":8,"labels":false,"title":null}},
"y":{"field":"y","type":"quantitative","scale":{"domain":[-50,0],"nice":false,"zero":false},"axis":{"orient":"left","values":[-48,-46,-44,-42,-38,-36,-34,-32,-28,-26,-24,-22,-18,-16,-14,-12,-8,-6,-4,-2],"tickSize":8,"labels":false,"title":null}},
"text":{"field":"t"}}},
{"data":{"name":"vlabels"},
"mark":{"type":"text","font":"DejaVu Sans","fontSize":13,"angle":270,"fill":"white","stroke":"white","strokeWidth":5},
"encoding":{
"x":{"field":"x","type":"quantitative","scale":{"domain":[0,406.5],"nice":false,"zero":false},"axis":{"orient":"top","values":[20,40,60,80,120,140,160,180,220,240,260,280,320,340,360,380],"tickSize":8,"labels":false,"title":null}},
"y":{"field":"y","type":"quantitative","scale":{"domain":[-50,0],"nice":false,"zero":false},"axis":{"orient":"right","values":[-48,-46,-44,-42,-38,-36,-34,-32,-28,-26,-24,-22,-18,-16,-14,-12,-8,-6,-4,-2],"tickSize":6,"labels":false,"title":null}},
"text":{"field":"t"}}},
{"data":{"name":"vlabels"},
"mark":{"type":"text","font":"DejaVu Sans","fontSize":13,"angle":270,"color":"black"},
"encoding":{
"x":{"field":"x","type":"quantitative","scale":{"domain":[0,406.5],"nice":false,"zero":false},"axis":null},
"y":{"field":"y","type":"quantitative","scale":{"domain":[-50,0],"nice":false,"zero":false},"axis":null},
"text":{"field":"t"}}}
],
"resolve":{"axis":{"x":"independent","y":"independent"}}
}
